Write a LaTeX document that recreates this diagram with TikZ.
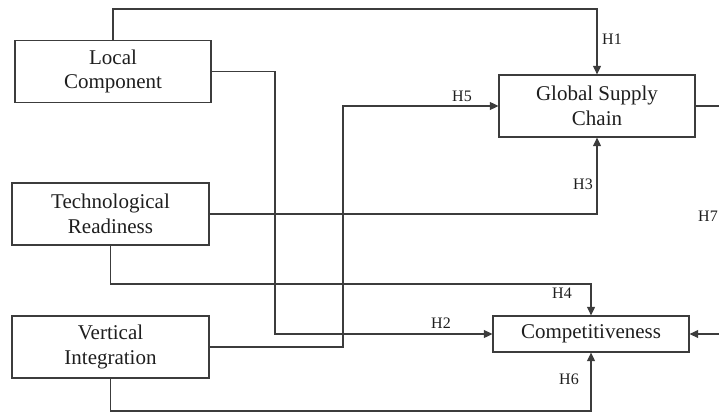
\documentclass[tikz,border=0pt]{standalone}
\usepackage{fontspec}
\setmainfont{Liberation Serif}
\usetikzlibrary{arrows.meta}
\definecolor{linec}{HTML}{3C3C3C}
\definecolor{textc}{HTML}{1E1E1E}
\tikzset{
  boxnode/.style={draw=linec, line width=1.3pt, minimum width=196pt, minimum height=62pt, align=center, inner sep=0pt, font=\fontsize{21}{24.5}\selectfont, text=textc},
  lbl/.style={font=\fontsize{16}{18}\selectfont, text=textc, inner sep=0pt},
  conn/.style={draw=linec, line width=1.3pt},
  arr/.style={conn, -{Triangle[length=8.5pt,width=8pt]}}
}
\begin{document}
\begin{tikzpicture}[x=1pt,y=-1pt]
\useasboundingbox (0,0) rectangle (719,414);
\node[boxnode] (lc) at (113,71.5) {Local\\Component};
\node[boxnode] (gsc) at (597,106) {Global Supply\\Chain};
\node[boxnode, minimum width=197pt] (tr) at (110.5,214) {Technological\\Readiness};
\node[boxnode, minimum width=197pt] (vi) at (110.5,347) {Vertical\\Integration};
\node[boxnode, minimum height=36pt] (comp) at (591,334) {Competitiveness};
\coordinate (c1) at (113,9);
\coordinate (c2) at (275,200);
\coordinate (c5) at (343,200);
\coordinate (c4) at (300,284);
\coordinate (c6) at (300,411);
\coordinate (e7) at (722,106);
\coordinate (s7) at (722,334);
\draw[arr] (lc.north) -- (c1) -| (gsc.north);
\draw[arr] (lc.east) -| (c2) |- (comp.west);
\draw[arr] (vi.east) -| (c5) |- (gsc.west);
\draw[arr] (tr.east) -| (gsc.south);
\draw[arr] (tr.south) |- (c4) -| (comp.north);
\draw[arr] (vi.south) |- (c6) -| (comp.south);
\draw[conn] (gsc.east) -- (e7);
\draw[arr] (s7) -- (comp.east);
\node[lbl] (h1) at (612,39) {H1};
\node[lbl] (h5) at (462,96) {H5};
\node[lbl] (h3) at (583,184) {H3};
\node[lbl] (h2) at (441,323) {H2};
\node[lbl] (h4) at (562,293) {H4};
\node[lbl] (h6) at (569,379) {H6};
\node[lbl, anchor=west] (h7) at (698,216) {H7};
\end{tikzpicture}
\end{document}
